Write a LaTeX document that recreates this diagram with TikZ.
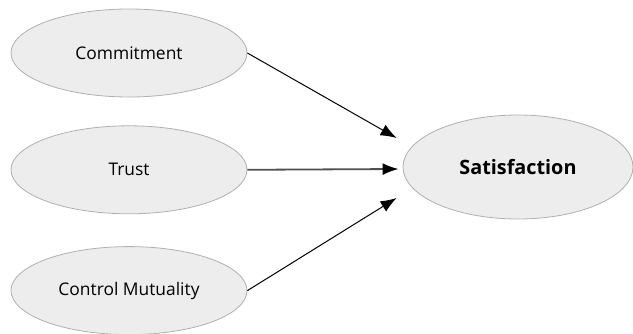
\documentclass[tikz,border=0pt]{standalone}
\usepackage{fontspec}
\setmainfont{Open Sans}
\usepackage{tikz}
\usetikzlibrary{positioning}
\usetikzlibrary{shapes,arrows.meta}
\definecolor{ellfill}{HTML}{EDEDED}
\definecolor{ellline}{HTML}{B0B0B0}
\definecolor{midline}{HTML}{505050}
\tikzset{factor/.style={ellipse,draw=ellline,fill=ellfill,line width=0.8pt,
  minimum width=236pt,minimum height=88pt,inner sep=0pt,
  font=\fontsize{17.4}{20}\selectfont}}
\tikzset{>={Latex[length=16pt,width=12pt,color=black]}}

\begin{document}
\begin{tikzpicture}[x=1pt,y=1pt]
\useasboundingbox (0,0) rectangle (633,333);
\node[factor] (commit) at (129,280) {Commitment};
\node[factor, below=28pt of commit] (trust) {Trust};
\node[factor, below=32pt of trust] (control) {Control Mutuality};
\node[factor, minimum width=230pt, minimum height=104pt,
  font=\fontsize{19.8}{23}\selectfont\bfseries] (sat) at (518,166) {Satisfaction};
% free ends just left of the outcome
\coordinate (in1) at ([xshift=-6pt,yshift=29pt]sat.west);
\coordinate (in2) at ([xshift=-4pt,yshift=-2pt]sat.west);
\coordinate (in3) at ([xshift=-6pt,yshift=-31pt]sat.west);
\draw[->, line width=1pt] (commit.east) -- (in1);
\draw[->, line width=1.8pt, midline] (trust.east) -- (in2);
\draw[->, line width=1pt] (control.east) -- (in3);
\end{tikzpicture}
\end{document}
